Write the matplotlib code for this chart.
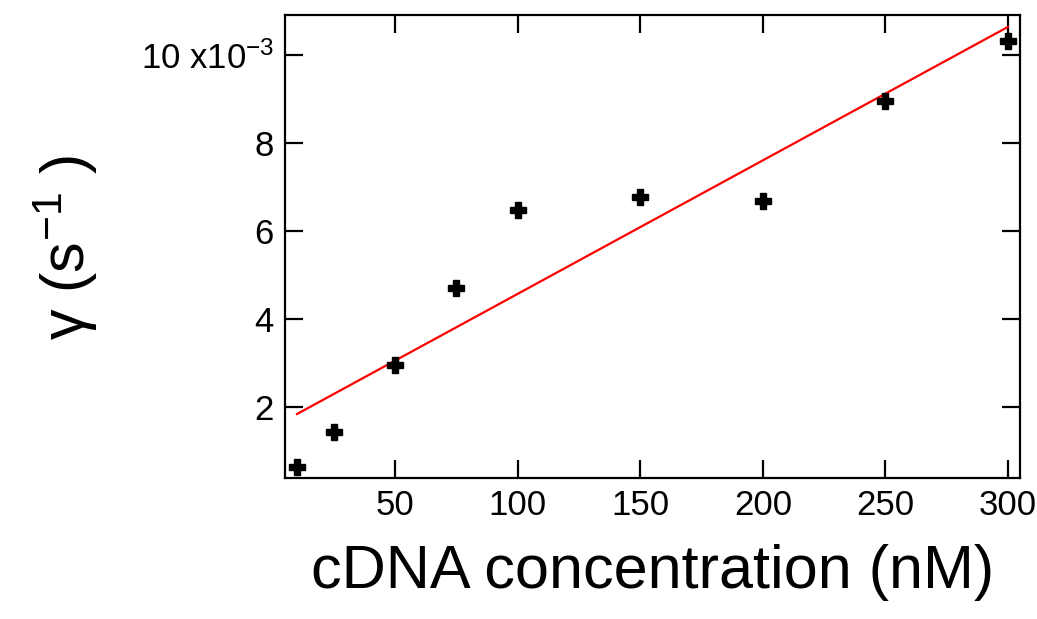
import matplotlib
matplotlib.use("Agg")
import matplotlib.pyplot as plt
import numpy as np

plt.rcParams['font.family'] = ['Liberation Sans', 'DejaVu Sans']
plt.rcParams['mathtext.fontset'] = 'custom'
plt.rcParams['mathtext.rm'] = 'Liberation Sans'
plt.rcParams['mathtext.it'] = 'Liberation Sans'

conc = [10, 25, 50, 75, 100, 150, 200, 250, 300]
gamma = [0.64, 1.43, 2.95, 4.70, 6.48, 6.77, 6.68, 8.95, 10.32]  # x1e-3
fit_x = [10, 300]
fit_y = [1.84, 10.64]

xticks = [50, 100, 150, 200, 250, 300]
yticks = [2, 4, 6, 8, 10]
yticklabels = ['2', '4', '6', '8', '10 x10$^{-3}$']

fig = plt.figure(figsize=(10.37, 6.19), dpi=100)
ax = fig.add_axes([285/1037, 1-478/619, (1020-285)/1037, (478-15)/619])

ax.plot(fit_x, fit_y, color='#ff0000', lw=1.6, zorder=2)
ax.plot(conc, gamma, linestyle='none', marker='P', color='black', markersize=12, zorder=3)

ax.set_xlim(5.1, 304.9)
ax.set_ylim(0.386, 10.91)
ax.set_xticks(xticks)
ax.set_yticks(yticks)
ax.set_yticklabels(yticklabels)
ax.tick_params(direction='in', length=13, width=1.6, labelsize=25, top=True, right=True, pad=8)
for s in ax.spines.values():
    s.set_linewidth(1.6)

ax.set_xlabel('cDNA concentration (nM)', fontsize=44, labelpad=16)
fig.text(0.063, 0.60, 'γ (s$^{-1}$ )', fontsize=44, rotation=90, ha='center', va='center')

fig.savefig('out.png', dpi=100)
